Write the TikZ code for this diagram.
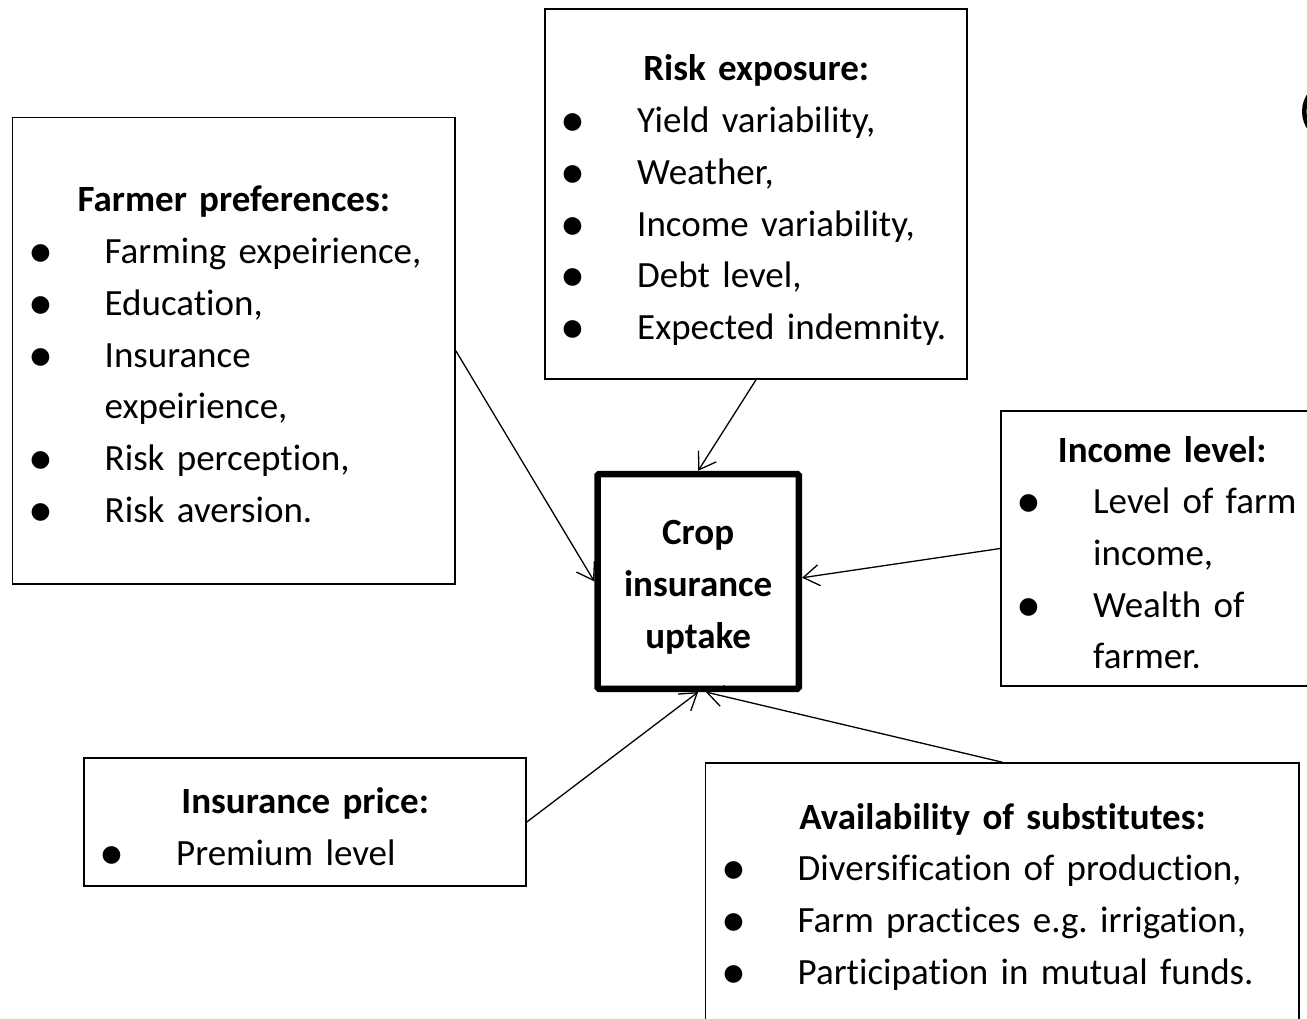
\documentclass[tikz,border=0pt]{standalone}
\usepackage{fontspec}
\setmainfont{Carlito}[Ligatures=NoCommon]
\usetikzlibrary{arrows.meta}
\frenchspacing

\newcommand{\tieude}[1]{\makebox[\linewidth]{\bfseries #1}}
\newcommand{\chamtron}{\raisebox{-4pt}{\fontsize{50}{0}\selectfont\textbullet}}
\newcommand{\gach}[1]{\hspace*{28pt}\makebox[0pt]{\chamtron}\hspace*{64pt}#1}
\newcommand{\dong}[1]{\hspace*{92pt}#1}

\begin{document}
\begin{tikzpicture}[x=1pt,y=-1pt,
	khung/.style={draw,line width=1.6pt,inner sep=0pt},
	chu/.style={anchor=base west,inner sep=0pt,align=left,font=\fontsize{37}{51.7}\selectfont},
	muiten/.style={line width=1.3pt,-{Straight Barb[length=16pt,width=21pt]}}]
			\useasboundingbox (0,0) rectangle (1307,1019);
			\clip (0,0) rectangle (1307,1019);
			% Các khung
			\node[khung,minimum width=442.5,minimum height=466.5] (farmer) at (233.75,350.75) {};
			\node[khung,minimum width=422,minimum height=370] (risk) at (756,194) {};
			\node[khung,minimum width=322,minimum height=275] (income) at (1162,548.5) {};
			\node[khung,minimum width=442,minimum height=128] (price) at (305,822) {};
			\node[khung,minimum width=593.5,minimum height=278] (subst) at (1002.25,902) {};
			\node[khung,line width=6.5pt,rounded corners=1.5pt,minimum width=201.3,minimum height=214.8] (uptake) at (698.15,581.4) {};
			% Chữ trong khung
			\node[chu,text width=442.5] (farmertxt) at (12.5,212) {\tieude{Farmer preferences:}\\
				\gach{Farming expeirience,}\\ \gach{Education,}\\ \gach{Insurance}\\ \dong{expeirience,}\\
				\gach{Risk perception,}\\ \gach{Risk aversion.}};
			\node[chu,text width=422] (risktxt) at (545,81) {\tieude{Risk exposure:}\\
				\gach{Yield variability,}\\ \gach{Weather,}\\ \gach{Income variability,}\\
				\gach{Debt level,}\\ \gach{Expected indemnity.}};
			\node[chu,text width=322] (incometxt) at (1001,462) {\tieude{Income level:}\\
				\gach{Level of farm}\\ \dong{income,}\\ \gach{Wealth of}\\ \dong{farmer.}};
			\node[chu,text width=442] (pricetxt) at (84,813.5) {\tieude{Insurance price:}\\
				\gach{Premium level}};
			\node[chu,text width=593.5] (substtxt) at (705.5,829) {\tieude{Availability of substitutes:}\\
				\gach{Diversification of production,}\\ \gach{Farm practices e.g. irrigation,}\\
				\gach{Participation in mutual funds.}};
			\node[chu,anchor=base,align=center,text width=201] (uptaketxt) at (698.15,544.7) {\bfseries Crop\\insurance\\uptake};
			% Mũi tên
			\draw[muiten] (farmer.east) -- (uptake.west);
			\draw[muiten] (risk.south) -- (uptake.north);
			\draw[muiten] (income.west) -- (uptake.2.5);
			\draw[muiten] (price.east) -- (uptake.south);
			\draw[muiten] (subst.north) -- (uptake.-86);
			% nét chữ bị cắt ở mép phải
			\draw[line width=4.5pt] (1311,93) .. controls (1302,103) and (1302,120) .. (1311,130);
\end{tikzpicture}
\end{document}
